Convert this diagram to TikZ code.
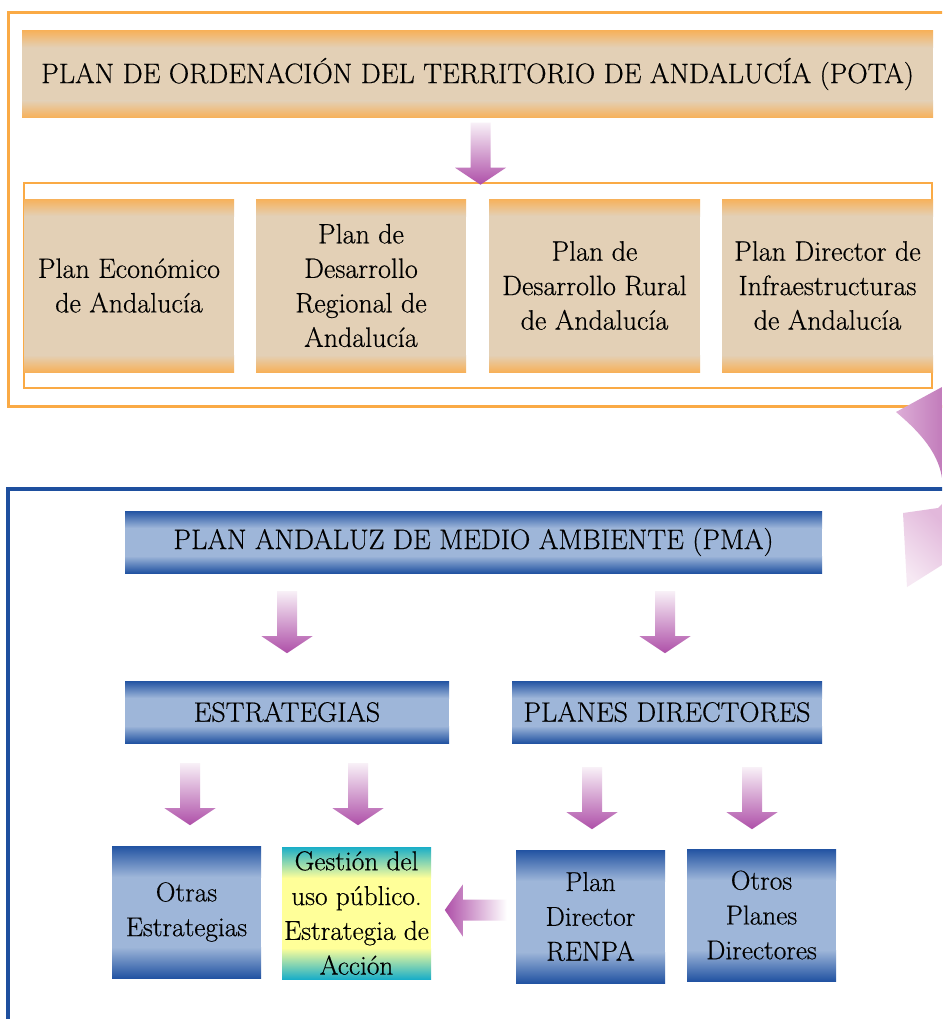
\documentclass[tikz,border=0pt]{standalone}
\usepackage{fontspec}
\setmainfont{Latin Modern Roman}[FakeBold=0.5]
\usetikzlibrary{calc}
\definecolor{orng}{HTML}{F7B15A}
\definecolor{beige}{HTML}{E3D0B6}
\definecolor{frameor}{HTML}{FAAA45}
\definecolor{bdark}{HTML}{2253A2}
\definecolor{blight}{HTML}{9EB6D9}
\definecolor{frameblue}{HTML}{1E4F9E}
\definecolor{tealc}{HTML}{1AAEC8}
\definecolor{yel}{HTML}{FFFF99}
\definecolor{purpd}{HTML}{AE4FA8}
\definecolor{purpl}{HTML}{F8F0F7}
\definecolor{curvL}{HTML}{DDAED7}
\definecolor{curvD}{HTML}{C27CBB}
\definecolor{tailL}{HTML}{F6E8F3}
\definecolor{tailD}{HTML}{E2B8DB}
\newcommand{\titlef}{\fontsize{28.2}{32}\selectfont}
\newcommand{\bodyf}{\fontsize{28}{34.5}\selectfont}
\newcommand{\smallf}{\fontsize{27.3}{34.8}\selectfont}
\tikzset{
  gbox/.style n args={3}{inner sep=0pt, align=center, fill=#2,
    path picture={
      \fill[#2] (path picture bounding box.south west) rectangle (path picture bounding box.north east);
      \shade[top color=#1, bottom color=#2]
        (path picture bounding box.north west) rectangle ([yshift=-#3 pt]path picture bounding box.north east);
      \shade[top color=#2, bottom color=#1]
        ([yshift=#3 pt]path picture bounding box.south west) rectangle (path picture bounding box.south east);
    }},
  obox/.style={gbox={orng}{beige}{17}},
  bbox/.style={gbox={bdark}{blight}{17}},
  sbox/.style={gbox={bdark}{blight}{31}, minimum width=149, minimum height=132, font=\smallf},
  ybox/.style={gbox={tealc}{yel}{31}, minimum width=149, minimum height=132, font=\smallf},
  downarr/.pic={
    \shade[top color=purpl, bottom color=purpd]
      (-10,0) -- (10,0) -- (10,45) -- (25.5,45) -- (0,62) -- (-25.5,45) -- (-10,45) -- cycle;},
  leftarr/.pic={
    \shade[left color=purpd, right color=white]
      (0,-10.5) -- (-44,-10.5) -- (-44,-25.5) -- (-62,0) -- (-44,26.5) -- (-44,10.5) -- (0,10.5) -- cycle;},
}
\begin{document}
\begin{tikzpicture}[x=1pt,y=-1pt]
\useasboundingbox (0,0) rectangle (942,1019);
\clip (0,0) rectangle (942,1019);
\fill[white] (0,0) rectangle (942,1019);

% frames
\draw[frameor, line width=3] (960,13) -- (8,13) -- (8,406) -- (960,406);
\draw[frameor, line width=2.5] (24,183) rectangle (932,388);
\draw[frameblue, line width=3.5] (960,489) -- (8,489) -- (8,1030);

% top part
\node[obox, minimum width=911, minimum height=87, font=\titlef] (pota) at (477.5,74)
  {PLAN DE ORDENACIÓN DEL TERRITORIO DE ANDALUCÍA (POTA)};
\node[obox, minimum width=210, minimum height=173, font=\bodyf] (p1) at (129,285.5)
  {Plan Económico\\de Andalucía};
\node[obox, minimum width=210, minimum height=173, font=\bodyf] (p2) at (361,285.5)
  {Plan de\\Desarrollo\\Regional de\\Andalucía};
\node[obox, minimum width=211, minimum height=173, font=\bodyf] (p3) at (594.5,285.5)
  {Plan de\\Desarrollo Rural\\de Andalucía};
\node[obox, minimum width=211, minimum height=173, font=\bodyf] (p4) at (827.5,285.5)
  {Plan Director de\\Infraestructuras\\de Andalucía};

% bottom part
\node[bbox, minimum width=697, minimum height=62, font=\titlef] (pma) at (473.5,542)
  {PLAN ANDALUZ DE MEDIO AMBIENTE (PMA)};
\node[bbox, minimum width=324, minimum height=62, font=\bodyf] (estr) at (287,712)
  {ESTRATEGIAS};
\node[bbox, minimum width=310, minimum height=62, font=\bodyf] (plan) at (667,712)
  {PLANES DIRECTORES};
\node[sbox] (otras) at (186.5,912) {Otras\\Estrategias};
\node[ybox] (gest) at (356.5,913) {Gestión del\\uso público.\\Estrategia de\\Acción};
\node[sbox, minimum height=133] (renpa) at (590.5,916.5) {Plan\\Director\\RENPA};
\node[sbox] (otros) at (761.5,915) {Otros\\Planes\\Directores};

% block arrows
\pic at ($(pota.south)+(3,5)$) {downarr};
\pic at ($(pma.south -| estr.north)+(0,18)$) {downarr};
\pic at ($(pma.south -| plan.north)+(-2,18)$) {downarr};
\pic at ($(estr.south -| otras.north)+(3.5,20)$) {downarr};
\pic at ($(estr.south -| gest.north)+(1.5,20)$) {downarr};
\pic at ($(plan.south -| renpa.north)+(1.5,24)$) {downarr};
\pic at ($(plan.south -| otros.north)+(-9.5,24)$) {downarr};
\pic at ($(renpa.west)+(-9,-6.5)$) {leftarr};

% curved arrow (partly outside the picture)
\shade[left color=curvL, right color=curvD]
  (896,412) -- (942,387) -- (942,478) .. controls (938,450) and (915,428) .. (896,412) -- cycle;
\shade[top color=tailD, bottom color=tailL, shading angle=-45]
  (903,513) -- (938,508) -- (942,504) -- (942,565) -- (907,587) -- cycle;
\end{tikzpicture}
\end{document}
